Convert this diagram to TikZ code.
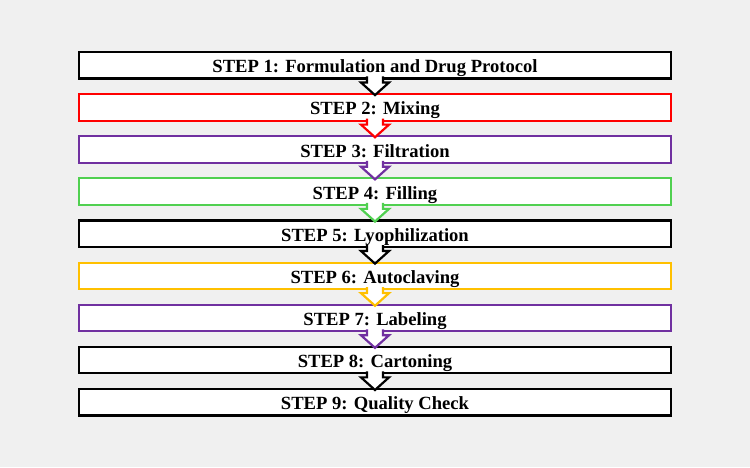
\documentclass[tikz,border=0pt]{standalone}
\usepackage{fontspec}
\setmainfont{Liberation Serif}
\usetikzlibrary{calc}
\definecolor{bg}{RGB}{240,240,240}
\definecolor{cred}{RGB}{255,0,0}
\definecolor{cpurple}{RGB}{112,48,160}
\definecolor{cgreen}{RGB}{80,208,80}
\definecolor{cyellow}{RGB}{255,192,0}
\newcommand{\blockarr}[3]{%
  \filldraw[arrowline, draw=#3]
    ($(#1.south)+(-8,2)$) -- ($(#1.south)+(-8,-4)$) -- ($(#1.south)+(-14,-4)$)
    -- ($(#2.north)+(0,-1)$) -- ($(#1.south)+(14,-4)$) -- ($(#1.south)+(8,-4)$)
    -- ($(#1.south)+(8,2)$);}
\begin{document}
\begin{tikzpicture}[x=1pt,y=1pt,
  stepbox/.style={draw, fill=white, line width=2.2pt, minimum width=592pt, minimum height=26.5pt,
    inner sep=0pt, outer sep=0pt, text height=15pt, text depth=0pt,
    font=\fontsize{18.6}{20}\selectfont\bfseries},
  arrowline/.style={fill=white, line width=2.2pt, line join=miter}]
\fill[bg] (0,0) rectangle (750,467);
\useasboundingbox (0,0) rectangle (750,467);
\node[stepbox, draw=black]   (s1) at (375,401.75)  {STEP 1: Formulation and Drug Protocol};
\node[stepbox, draw=cred]    (s2) at (375,359.625) {STEP 2: Mixing};
\node[stepbox, draw=cpurple] (s3) at (375,317.5)   {STEP 3: Filtration};
\node[stepbox, draw=cgreen]  (s4) at (375,275.375) {STEP 4: Filling};
\node[stepbox, draw=black]   (s5) at (375,233.25)  {STEP 5: Lyophilization};
\node[stepbox, draw=cyellow] (s6) at (375,191.125) {STEP 6: Autoclaving};
\node[stepbox, draw=cpurple] (s7) at (375,149)     {STEP 7: Labeling};
\node[stepbox, draw=black]   (s8) at (375,106.875) {STEP 8: Cartoning};
\node[stepbox, draw=black]   (s9) at (375,64.75)   {STEP 9: Quality Check};
\blockarr{s1}{s2}{black}
\blockarr{s2}{s3}{cred}
\blockarr{s3}{s4}{cpurple}
\blockarr{s4}{s5}{cgreen}
\blockarr{s5}{s6}{black}
\blockarr{s6}{s7}{cyellow}
\blockarr{s7}{s8}{cpurple}
\blockarr{s8}{s9}{black}
\end{tikzpicture}
\end{document}
